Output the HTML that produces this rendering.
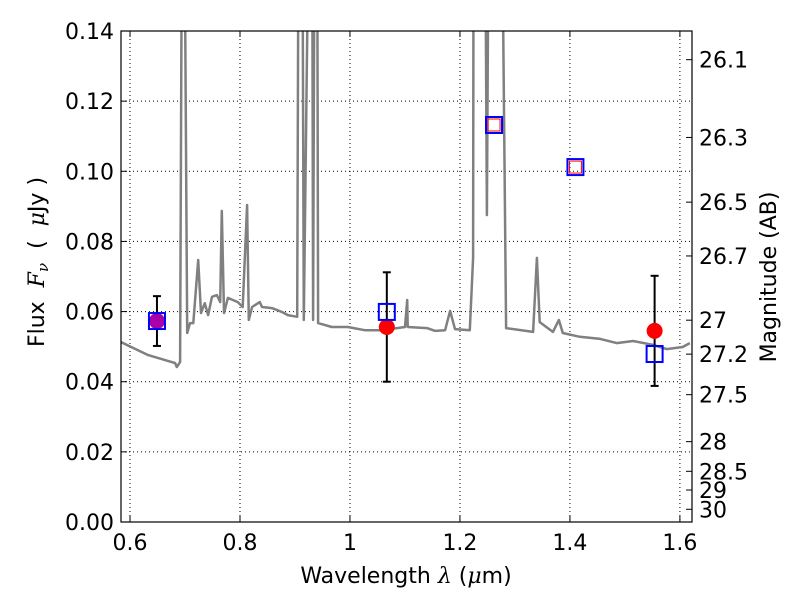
<!DOCTYPE html>
<html><head><meta charset="utf-8"><style>
body{margin:0;background:#fff;}
svg{display:block;font-family:"DejaVu Sans","Liberation Sans",sans-serif;}
</style></head><body>
<svg id="chart" width="800" height="600"></svg>
<script>
const xTicks=[0.6,0.8,1.0,1.2,1.4,1.6];
const xTickLabels=["0.6","0.8","1","1.2","1.4","1.6"];
const yTicks=[0,0.02,0.04,0.06,0.08,0.10,0.12,0.14];
const yTickLabels=["0.00","0.02","0.04","0.06","0.08","0.10","0.12","0.14"];
const magTicks=[26.1,26.3,26.5,26.7,27,27.2,27.5,28,28.5,29,30];
const magLabels=["26.1","26.3","26.5","26.7","27","27.2","27.5","28","28.5","29","30"];
const specWave=[0.5836,0.633,0.682,0.685,0.691,0.695,0.698,0.704,0.709,0.715,0.724,0.729,0.736,0.742,0.749,0.758,0.764,0.767,0.771,0.778,0.796,0.805,0.813,0.816,0.822,0.836,0.840,0.858,0.876,0.887,0.904,0.907,0.913,0.916,0.927,0.931,0.933,0.936,0.940,0.942,0.967,0.996,1.027,1.058,1.100,1.104,1.105,1.140,1.155,1.173,1.182,1.191,1.218,1.224,1.225,1.245,1.249,1.253,1.275,1.284,1.333,1.340,1.345,1.369,1.380,1.387,1.418,1.455,1.485,1.515,1.551,1.576,1.605,1.618];
const specFlux=[0.0513,0.0476,0.0453,0.0442,0.0456,0.200,0.200,0.0539,0.0567,0.0567,0.0747,0.0596,0.0624,0.0590,0.0642,0.0647,0.0627,0.0887,0.0596,0.0639,0.0627,0.0613,0.0904,0.0576,0.0613,0.0627,0.0613,0.0610,0.0599,0.0590,0.0585,0.200,0.200,0.0576,0.200,0.200,0.0576,0.200,0.200,0.0567,0.0556,0.0556,0.0547,0.0547,0.0556,0.0633,0.0556,0.0553,0.0545,0.0547,0.0602,0.0550,0.0547,0.0753,0.200,0.200,0.0875,0.200,0.200,0.0553,0.0542,0.0753,0.0570,0.0542,0.0576,0.0539,0.0528,0.0522,0.0510,0.0516,0.0505,0.0493,0.0499,0.0510];
const photWave=[0.649,1.067,1.554];
const photFlux=[0.0573,0.0556,0.0545];
const photErr=[0.0071,0.0156,0.0157];
const photColors=["#aa00aa","#ff0000","#ff0000"];
const modelWave=[0.649,1.067,1.262,1.410,1.554];
const modelFlux=[0.0573,0.0599,0.1132,0.1012,0.0479];
const innerWave=[1.262,1.410];
const innerFlux=[0.1132,0.1012];

const L=121,R=692,T=31,B=522;
const xmin=0.5836,xmax=1.622,ymin=0,ymax=0.14;
const X=v=>L+(v-xmin)/(xmax-xmin)*(R-L);
const Y=v=>B-(v-ymin)/(ymax-ymin)*(B-T);
const M=m=>Y(Math.pow(10,(23.9-m)/2.5));
const svg=document.getElementById('chart');
const NS='http://www.w3.org/2000/svg';
function el(tag,attrs,parent){const e=document.createElementNS(NS,tag);for(const k in attrs)e.setAttribute(k,attrs[k]);(parent||svg).appendChild(e);return e;}

const defs=el('defs',{});
const cp=el('clipPath',{id:'clip'},defs);
el('rect',{x:L,y:T,width:R-L,height:B-T},cp);

const grid=el('g',{});


xTicks.forEach(t=>{el('line',{x1:X(t),x2:X(t),y1:T,y2:B,stroke:'#000','stroke-width':1,'stroke-dasharray':'1,3'},grid);});
yTicks.forEach(t=>{el('line',{x1:L,x2:R,y1:Y(t),y2:Y(t),stroke:'#000','stroke-width':1,'stroke-dasharray':'1,3'},grid);});

let d='';
specWave.forEach((w,i)=>{d+=(i?'L':'M')+X(w).toFixed(1)+','+Y(specFlux[i]).toFixed(1);});
const spec=el('path',{d:d,fill:'none',stroke:'#808080','stroke-width':2.5,'clip-path':'url(#clip)','stroke-linejoin':'round'});



photWave.forEach((w,i)=>{
  const g=el('g',{});
  
  
  const x=X(w),y1=Y(photFlux[i]+photErr[i]),y2=Y(photFlux[i]-photErr[i]);
  el('line',{x1:x,x2:x,y1:y1,y2:y2,stroke:'#000','stroke-width':2},g);
  el('line',{x1:x-4,x2:x+4,y1:y1,y2:y1,stroke:'#000','stroke-width':2},g);
  el('line',{x1:x-4,x2:x+4,y1:y2,y2:y2,stroke:'#000','stroke-width':2},g);
  el('circle',{cx:x,cy:Y(photFlux[i]),r:8,fill:photColors[i]},g);
});
modelWave.forEach((w,i)=>{
  const r=el('rect',{x:X(w)-8,y:Y(modelFlux[i])-8,width:16,height:16,fill:'none',stroke:'#0000ff','stroke-width':2});
  
  
});
innerWave.forEach((w,i)=>{
  const r=el('rect',{x:X(w)-6,y:Y(innerFlux[i])-6,width:12,height:12,fill:'none',stroke:'#ff0000','stroke-width':1});
  
  
});

const fr=el('rect',{x:L,y:T,width:R-L,height:B-T,fill:'none',stroke:'#000','stroke-width':1.2});



xTicks.forEach((t,i)=>{
  el('line',{x1:X(t),x2:X(t),y1:B,y2:B-6,stroke:'#000'});
  el('line',{x1:X(t),x2:X(t),y1:T,y2:T+6,stroke:'#000'});
  const tx=el('text',{x:X(t),y:B+28,'font-size':22,'text-anchor':'middle'});
  tx.textContent=xTickLabels[i];
  
  
});
yTicks.forEach((t,i)=>{
  el('line',{x1:L,x2:L+6,y1:Y(t),y2:Y(t),stroke:'#000'});
  const tx=el('text',{x:L-7,y:Y(t)+8,'font-size':22,'text-anchor':'end'});
  tx.textContent=yTickLabels[i];
  
  
});
magTicks.forEach((m,i)=>{
  const y=M(m);
  el('line',{x1:R,x2:R-6,y1:y,y2:y,stroke:'#000'});
  const tx=el('text',{x:R+7,y:y+8,'font-size':22,'text-anchor':'start'});
  tx.textContent=magLabels[i];
  
  
});
</script>
<svg width="800" height="600" style="position:absolute;left:0;top:0;font-family:'DejaVu Sans','Liberation Sans',sans-serif">
<text x="406" y="583" font-size="22" text-anchor="middle">Wavelength  <tspan font-family="'DejaVu Serif',serif" font-style="italic">λ</tspan> (<tspan font-family="'DejaVu Serif',serif" font-style="italic">μ</tspan>m)</text>
<text transform="translate(44,262) rotate(-90)" font-size="22" text-anchor="middle" xml:space="preserve">Flux  <tspan font-family="'DejaVu Serif',serif" font-style="italic">F<tspan font-size="15" dy="4">ν</tspan></tspan><tspan dy="-4">  (  </tspan><tspan font-family="'DejaVu Serif',serif" font-style="italic">μ</tspan>Jy )</text>
<text transform="translate(776,277) rotate(-90)" font-size="22" text-anchor="middle">Magnitude (AB)</text>
</svg>
</body></html>
